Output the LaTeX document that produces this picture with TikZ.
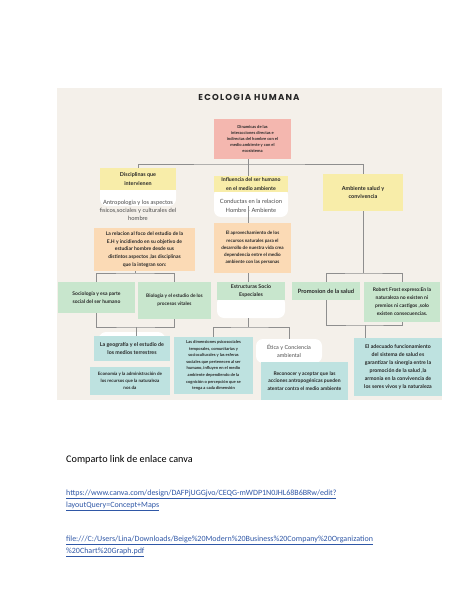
\documentclass[tikz,border=0pt]{standalone}
\usepackage{fontspec}
\setmainfont{Carlito}
\newfontfamily\boxfont{Lato}
\newfontfamily\titlefont[LetterSpace=14]{Poppins}
\usetikzlibrary{positioning,arrows.meta}

\definecolor{panelbg}{HTML}{F4F0EA}
\definecolor{rootpink}{HTML}{F4B7AF}
\definecolor{softyellow}{HTML}{F8EDA9}
\definecolor{peach}{HTML}{FBDAB5}
\definecolor{mint}{HTML}{C8E6CD}
\definecolor{aqua}{HTML}{BEE2E0}
\definecolor{wire}{HTML}{8E8E8E}
\definecolor{linkblue}{HTML}{2F57A6}

\newcommand\boldsz[2]{\boxfont\bfseries\fontsize{#1}{#2}\selectfont}
\newcommand\plainsz[2]{\boxfont\fontsize{#1}{#2}\selectfont}

\begin{document}
\begin{tikzpicture}[x=1pt, y=-1pt, >=Latex,
  box/.style={inner sep=1pt, align=center, text=black!85},
  pinkbox/.style={box, fill=rootpink},
  yelbox/.style={box, fill=softyellow},
  peachbox/.style={box, fill=peach},
  mintbox/.style={box, fill=mint},
  aquabox/.style={box, fill=aqua},
  soft/.style={inner sep=1pt, align=center, text=black!70},
  blob/.style={fill=white, rounded corners=7pt, inner sep=0pt},
  wire/.style={draw=wire, line width=1pt}]
  \useasboundingbox (0,0) rectangle (474,613);
  \fill[panelbg] (57,88) rectangle (442,400);

  \node[font=\titlefont\bfseries\fontsize{8.6}{10}\selectfont, text=black!85] (title) at (249,97) {ECOLOGIA HUMANA};

  % white patches behind the grey texts
  \node[blob, minimum width=76pt, minimum height=22pt] (discw) at (138,195) {};
  \node[blob, minimum width=74pt, minimum height=29pt] (inflw) at (251,202.5) {};
  \node[blob, minimum width=68pt, minimum height=22pt] (estrw) at (251,307) {};
  \node[blob, minimum width=66pt, minimum height=10pt] (geow) at (132,337) {};

  % top and first row
  \node[pinkbox, minimum width=77pt, minimum height=40pt, font=\boldsz{4.1}{6}] (root) at (252.5,139)
    {Dinamicas de las\\interacciones directas e\\indirectas del hombre con el\\medio ambiente y con el\\ecosistema};
  \node[yelbox, minimum width=76pt, minimum height=22pt, font=\boldsz{5.4}{8.5}] (disc) at (138,179)
    {Disciplinas que\\intervienen};
  \node[yelbox, minimum width=74pt, minimum height=16pt, font=\boldsz{5.2}{8.3}] (infl) at (251,184)
    {Influencia del ser humano\\en el medio ambiente};
  \node[yelbox, minimum width=80pt, minimum height=37pt, font=\boldsz{5.5}{8}] (amb) at (363,192.5)
    {Ambiente salud y\\convivencia};

  \node[soft, font=\plainsz{5.8}{8}] (antro) at (138,210)
    {Antropologia y los aspectos\\fisicos,sociales y culturales del\\hombre};
  \node[soft, font=\plainsz{5.8}{8.3}] (cond) at (251,206)
    {Conductas en la relacion\\Hombre - Ambiente};

  % orange row
  \node[peachbox, minimum width=101pt, minimum height=43pt, font=\boldsz{5}{7.8}] (relac) at (144.5,249.5)
    {La relacion al foco del estudio de la\\E.H y incidiendo en su objetivo de\\estudiar hombre desde sus\\distintos aspectos ,las disciplinas\\que la integran son:};
  \node[peachbox, minimum width=77pt, minimum height=50pt, font=\boldsz{4.6}{7.2}] (aprov) at (252.5,248)
    {El aprovechamiento de los\\recursos naturales para el\\desarrollo de nuestra vida crea\\dependencia entre el medio\\ambiente con las personas};

  % green row
  \node[mintbox, minimum width=77pt, minimum height=31pt, font=\boldsz{5}{8}] (socio) at (96.5,297.5)
    {Sociología y esa parte\\social del ser humano};
  \node[mintbox, minimum width=73pt, minimum height=37pt, font=\boldsz{4.8}{8}] (bio) at (174.5,300.5)
    {Biologia y el estudio de los\\procesos vitales};
  \node[mintbox, minimum width=68pt, minimum height=18pt, font=\boldsz{5.2}{8.3}] (estr) at (251,291)
    {Estructuras Socio\\Especiales};
  \node[mintbox, minimum width=68pt, minimum height=18pt, font=\boldsz{5.8}{8}] (promo) at (326,291)
    {Promosion de la salud};
  \node[mintbox, minimum width=76pt, minimum height=40pt, font=\boldsz{5}{8}] (frost) at (402,302)
    {Robert Frost expreso:En la\\naturaleza no existen ni\\premios ni castigos ,solo\\existen consecuencias.};

  % aqua row
  \node[aquabox, minimum width=76pt, minimum height=25pt, font=\boldsz{5.3}{8}] (geo) at (132,348.5)
    {La geografía y el estudio de\\los medios terrestres};
  \node[aquabox, minimum width=80pt, minimum height=28pt, font=\boldsz{4.5}{7}] (econ) at (130,381)
    {Economía y la administración de\\los recursos que la naturaleza\\nos da};
  \node[aquabox, minimum width=79pt, minimum height=57pt, font=\boldsz{4.1}{6.6}] (dimen) at (213.5,365.5)
    {Las dimensiones psicosociales\\temporales, comunitarias y\\socioculturales y las esferas\\sociales que pertenecen al ser\\humano, influyen en el medio\\ambiente dependiendo de la\\cognición o percepción que se\\tenga a cada dimensión};
  \node[blob, soft, minimum width=66pt, minimum height=24pt, font=\plainsz{5.5}{8}] (etica) at (289,351)
    {Ética y Conciencia\\ambiental};
  \node[aquabox, minimum width=87pt, minimum height=38pt, font=\boldsz{5}{7.8}] (recon) at (304.5,381)
    {Reconocer y aceptar que las\\acciones antropogénicas pueden\\atentar contra el medio ambiente};
  \node[aquabox, minimum width=88pt, minimum height=58pt, font=\boldsz{5.2}{8}] (adec) at (398,367)
    {El adecuado funcionamiento\\del sistema de salud es\\garantizar la sinergia entre la\\promoción de la salud ,la\\armonia en la convivencia de\\los seres vivos y la naturaleza};

  % connectors
  \coordinate (spine) at (248,164);
  \draw[wire] (spine |- root.south) -- (spine);
  \draw[wire] (disc.north) |- (spine) -| (amb.north);
  \draw[wire] (spine) -- (spine |- infl.north);
  \draw[wire] (spine |- cond.center) -- (spine |- aprov.north);
  \draw[wire] (spine |- aprov.south) -- (spine |- estr.north);

  \coordinate (leftfork) at (135,273);
  \draw[wire] (leftfork |- relac.south) -- (leftfork);
  \draw[wire] (socio.north) |- (leftfork) -| (bio.north);
  \coordinate (leftjoin) at (136,327);
  \draw[wire] (socio.south) |- (leftjoin) -| (bio.south);
  \draw[wire] (leftjoin) -- (leftjoin |- geo.north);

  \coordinate (midfork) at (248,327);
  \draw[wire] (spine |- estrw.south) -- (midfork);
  \draw[wire] (dimen.north) |- (midfork) -| (etica.north);

  \coordinate (rightfork) at (363,273);
  \draw[wire] (amb.south) -- (rightfork);
  \draw[wire] (promo.north) |- (rightfork) -| (frost.north);
  \coordinate (rightjoin) at (365,325);
  \draw[wire] (promo.south) |- (rightjoin) -| (frost.south);
  \draw[wire] (rightjoin) -- (rightjoin |- adec.north);

  % text under the chart
  \node[anchor=west, inner sep=0pt, font=\fontsize{10.2}{12}\selectfont] (note) at (66,460)
    {Comparto link de enlace canva};
  \node[anchor=west, inner sep=0pt, align=left, text=linkblue, font=\fontsize{8}{12}\selectfont] (canva) at (66,500)
    {\underline{https://www.canva.com/design/DAFPjUGGjvo/CEQG-mWDP1N0JHL68B6BRw/edit?}\\\underline{layoutQuery=Concept+Maps}};
  \node[anchor=west, inner sep=0pt, align=left, text=linkblue, font=\fontsize{8}{12}\selectfont] (pdf) at (66,546)
    {\underline{file:///C:/Users/Lina/Downloads/Beige\%20Modern\%20Business\%20Company\%20Organization}\\\underline{\%20Chart\%20Graph.pdf}};
\end{tikzpicture}
\end{document}
